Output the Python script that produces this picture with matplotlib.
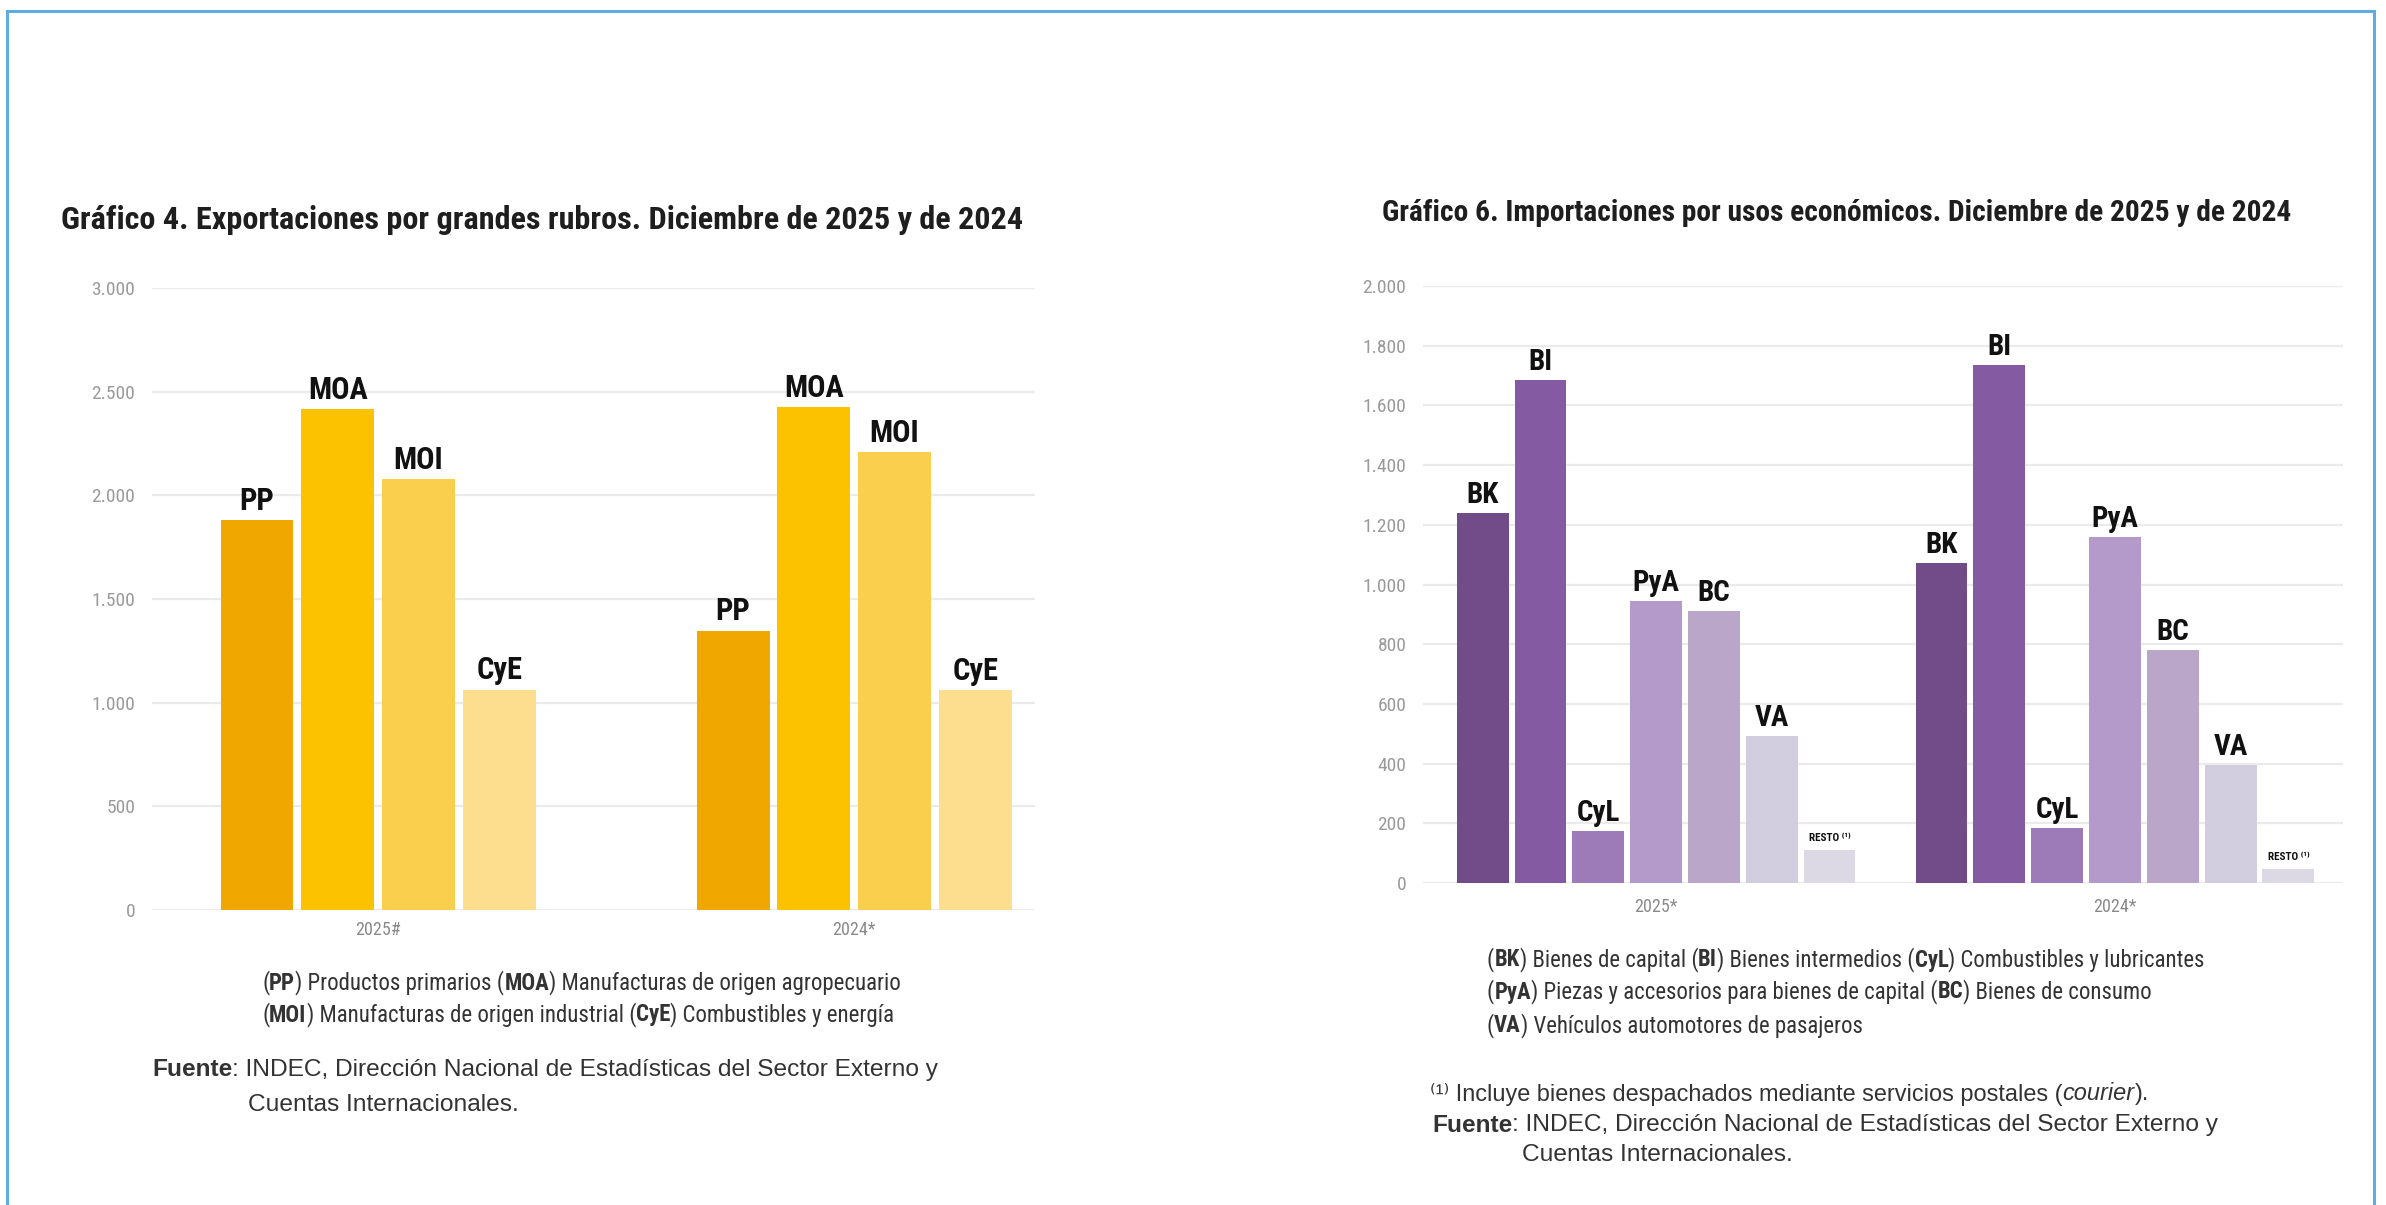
import matplotlib
matplotlib.use('Agg')
import matplotlib.pyplot as plt
from matplotlib import font_manager
from matplotlib.lines import Line2D
from matplotlib.ticker import FuncFormatter, MultipleLocator

# --- data (millones de USD) ---
exp_groups = ['2025#', '2024*']
exp_rubros = ['PP', 'MOA', 'MOI', 'CyE']
exp_2025 = [1880, 2415, 2080, 1063]
exp_2024 = [1348, 2425, 2207, 1059]
exp_colors = ['#F0A800', '#FCC200', '#FBCF4E', '#FDDE8E']

imp_groups = ['2025*', '2024*']
imp_usos = ['BK', 'BI', 'CyL', 'PyA', 'BC', 'VA', 'RESTO']
imp_2025 = [1238, 1685, 173, 945, 911, 491, 112]
imp_2024 = [1073, 1734, 184, 1158, 781, 394, 47]
imp_colors = ['#714C89', '#845BA3', '#9C7BB8', '#B39ACB', '#B9A6C8', '#D3CDE0', '#DCD8E4']

W, H = 2386, 1205

# pick a narrow/condensed face if one is installed
ttf = font_manager.fontManager.ttflist
names = {f.name for f in ttf}
NARROW, STRETCH = 'DejaVu Sans', 'normal'
for cand in ['Liberation Sans Narrow', 'Roboto Condensed', 'Open Sans Condensed',
             'Arial Narrow', 'Noto Sans Condensed', 'DejaVu Sans Condensed']:
    if cand in names:
        NARROW = cand
        break
else:
    for f in ttf:
        if str(f.stretch) in ('condensed', 'semi-condensed') and f.name in (
                'DejaVu Sans', 'Noto Sans', 'Open Sans', 'Roboto', 'Liberation Sans'):
            NARROW, STRETCH = f.name, str(f.stretch)
            break
REG = 'Liberation Sans' if 'Liberation Sans' in names else 'DejaVu Sans'
NARROW_F = [NARROW, 'DejaVu Sans']
REG_F = [REG, 'DejaVu Sans']

fig = plt.figure(figsize=(W / 100, H / 100), dpi=100)
fig.patch.set_facecolor('white')
renderer = fig.canvas.get_renderer()


def fx(px):
    return px / W


def fy(py):
    return 1 - py / H


def advance(s, size, family, weight='normal', style='normal', stretch='normal'):
    # width in px including trailing spaces
    kw = dict(fontsize=size, family=family, fontweight=weight, fontstyle=style, fontstretch=stretch)
    t1 = fig.text(0, 0, s + '|', **kw)
    t2 = fig.text(0, 0, '|', **kw)
    w = t1.get_window_extent(renderer).width - t2.get_window_extent(renderer).width
    t1.remove()
    t2.remove()
    return w


def fit_size(parts, family, target, stretch='normal', size=20):
    tot = sum(advance(s, size, family, w, st, stretch) for s, w, st in parts)
    return size * target / tot


def rich(x, y, parts, size, family, color='#333333', stretch='normal'):
    cur = x
    for s, w, st in parts:
        fig.text(fx(cur), fy(y), s, fontsize=size, family=family, fontweight=w,
                 fontstyle=st, fontstretch=stretch, color=color, ha='left', va='center')
        cur += advance(s, size, family, w, st, stretch)


def B(s):
    return (s, 'bold', 'normal')


def N(s):
    return (s, 'normal', 'normal')


def I(s):
    return (s, 'normal', 'italic')


def dotfmt(v, pos):
    return f'{v:,.0f}'.replace(',', '.')


def style_axes(ax, ymax, step):
    ax.set_ylim(0, ymax)
    ax.yaxis.set_major_locator(MultipleLocator(step))
    ax.yaxis.set_major_formatter(FuncFormatter(dotfmt))
    ax.grid(axis='y', color='#EBEBEB', linewidth=1.6, zorder=0)
    ax.set_axisbelow(True)
    for sp in ax.spines.values():
        sp.set_visible(False)
    ax.tick_params(length=0)
    for lab in ax.get_yticklabels():
        lab.set_family(NARROW_F)
        lab.set_fontstretch(STRETCH)
        lab.set_fontsize(14)
        lab.set_color('#9A9A9A')


def bar_label(ax, text, x, v, size, dy=4):
    ax.annotate(text, (x, v), xytext=(0, dy), textcoords='offset points',
                ha='center', va='bottom', fontsize=size, fontweight='bold',
                family=NARROW_F, fontstretch=STRETCH, color='#111111')


# --- Gráfico 4: exportaciones ---
ax1 = fig.add_axes([fx(152), fy(910), fx(1035 - 152), (910 - 288) / H])
ax1.set_xlim(-0.475, 1.38)
step1, width1 = 0.1695, 0.153
for i, rubro in enumerate(exp_rubros):
    vals = [exp_2025[i], exp_2024[i]]
    xs = [g + (i - 1.5) * step1 for g in range(len(exp_groups))]
    ax1.bar(xs, vals, width=width1, color=exp_colors[i], zorder=2)
    for x, v in zip(xs, vals):
        bar_label(ax1, rubro, x, v, 22, dy=3)
ax1.set_xticks(range(len(exp_groups)))
ax1.set_xticklabels(exp_groups, family=NARROW_F, fontstretch=STRETCH, fontsize=13, color='#8A8A8A')
ax1.tick_params(axis='x', pad=8)
ax1.tick_params(axis='y', pad=12)
style_axes(ax1, 3000, 500)

# --- Gráfico 6: importaciones ---
ax2 = fig.add_axes([fx(1423), fy(883), fx(2343 - 1423), (883 - 286) / H])
ax2.set_xlim(-0.508, 1.497)
step2, width2 = 0.126, 0.113
for i, uso in enumerate(imp_usos):
    vals = [imp_2025[i], imp_2024[i]]
    xs = [g + (i - 3) * step2 for g in range(len(imp_groups))]
    ax2.bar(xs, vals, width=width2, color=imp_colors[i], zorder=2)
    for x, v in zip(xs, vals):
        if uso == 'RESTO':
            bar_label(ax2, 'RESTO ⁽¹⁾', x, v, 8, dy=5)
        else:
            bar_label(ax2, uso, x, v, 21, dy=3)
ax2.set_xticks(range(len(imp_groups)))
ax2.set_xticklabels(imp_groups, family=NARROW_F, fontstretch=STRETCH, fontsize=13, color='#8A8A8A')
ax2.tick_params(axis='x', pad=11)
ax2.tick_params(axis='y', pad=12)
style_axes(ax2, 2000, 200)

# --- titles ---
t1 = [B('Gráfico 4. Exportaciones por grandes rubros. Diciembre de 2025 y de 2024')]
s = fit_size(t1, NARROW_F, 961, STRETCH)
rich(61, 220, t1, s, NARROW_F, color='#1E1E1E', stretch=STRETCH)
t2 = [B('Gráfico 6. Importaciones por usos económicos. Diciembre de 2025 y de 2024')]
s = fit_size(t2, NARROW_F, 910, STRETCH)
rich(1382, 213, t2, s, NARROW_F, color='#1E1E1E', stretch=STRETCH)

# --- legends ---
leg1 = [
    [N('('), B('PP'), N(') Productos primarios ('), B('MOA'), N(') Manufacturas de origen agropecuario')],
    [N('('), B('MOI'), N(') Manufacturas de origen industrial ('), B('CyE'), N(') Combustibles y energía')],
]
s = fit_size(leg1[0], NARROW_F, 636, STRETCH)
rich(262, 983, leg1[0], s, NARROW_F, stretch=STRETCH)
rich(262, 1015, leg1[1], s, NARROW_F, stretch=STRETCH)

leg2 = [
    [N('('), B('BK'), N(') Bienes de capital ('), B('BI'), N(') Bienes intermedios ('), B('CyL'),
     N(') Combustibles y lubricantes')],
    [N('('), B('PyA'), N(') Piezas y accesorios para bienes de capital ('), B('BC'), N(') Bienes de consumo')],
    [N('('), B('VA'), N(') Vehículos automotores de pasajeros')],
]
s = fit_size(leg2[0], NARROW_F, 715, STRETCH)
rich(1487, 960, leg2[0], s, NARROW_F, stretch=STRETCH)
rich(1487, 992, leg2[1], s, NARROW_F, stretch=STRETCH)
rich(1487, 1026, leg2[2], s, NARROW_F, stretch=STRETCH)

# --- fuentes ---
f1 = [B('Fuente'), N(': INDEC, Dirección Nacional de Estadísticas del Sector Externo y')]
s = fit_size(f1, REG_F, 787)
rich(152, 1070, f1, s, REG_F)
rich(248, 1105, [N('Cuentas Internacionales.')], s, REG_F)

nota = [N('⁽¹⁾ Incluye bienes despachados mediante servicios postales ('), I('courier'), N(').')]
s2 = fit_size(nota, REG_F, 717)
rich(1430, 1094, nota, s2, REG_F)
rich(1432, 1125, f1, s, REG_F)
rich(1522, 1155, [N('Cuentas Internacionales.')], s, REG_F)

# --- marco azul ---
blue = '#5DADE2'
for xs, ys in [([7, 2374], [11, 11]), ([7, 7], [11, 1210]), ([2374, 2374], [11, 1210])]:
    fig.add_artist(Line2D([fx(v) for v in xs], [fy(v) for v in ys], color=blue,
                          linewidth=2.2, transform=fig.transFigure))

fig.savefig('out.png', dpi=100, facecolor='white')
